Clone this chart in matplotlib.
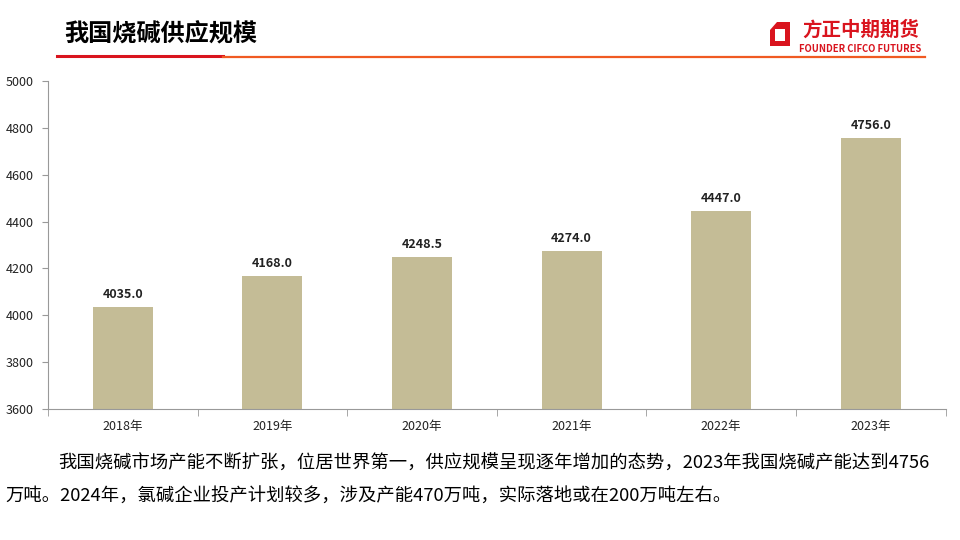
import matplotlib.pyplot as plt
from matplotlib.patches import Polygon, Rectangle

plt.rcParams['font.family'] = ['Noto Sans CJK SC', 'DejaVu Sans']

# adatok
evek = ['2018年', '2019年', '2020年', '2021年', '2022年', '2023年']
kapacitas = [4035.0, 4168.0, 4248.5, 4274.0, 4447.0, 4756.0]
y_ticks = [3600, 3800, 4000, 4200, 4400, 4600, 4800, 5000]

cim = '我国烧碱供应规模'
szoveg1 = '我国烧碱市场产能不断扩张，位居世界第一，供应规模呈现逐年增加的态势，2023年我国烧碱产能达到4756'
szoveg2 = '万吨。2024年，氯碱企业投产计划较多，涉及产能470万吨，实际落地或在200万吨左右。'

fig = plt.figure(figsize=(9.6, 5.4), dpi=100)
ax = fig.add_axes([0.05, 0.2426, 0.935, 0.6074])

x = list(range(len(evek)))
ax.bar(x, kapacitas, width=0.4, color='#C4BC96', zorder=2)
for xi, v in zip(x, kapacitas):
    ax.text(xi, v + 25, f'{v:.1f}', ha='center', va='bottom', fontsize=9,
            fontweight='bold', color='#222222')

ax.set_ylim(3600, 5000)
ax.set_xlim(-0.5, len(evek) - 0.5)
ax.set_yticks(y_ticks)
ax.tick_params(axis='y', labelsize=9, length=4, color='#999999', labelcolor='#222222', pad=6)
ax.set_xticks(x)
ax.set_xticklabels(evek)
ax.set_xticks([i + 0.5 for i in range(-1, len(evek))], minor=True)
ax.tick_params(axis='x', which='major', length=0, labelsize=9, labelcolor='#222222', pad=8)
ax.tick_params(axis='x', which='minor', length=5, color='#999999')
for s in ['top', 'right']:
    ax.spines[s].set_visible(False)
for s in ['left', 'bottom']:
    ax.spines[s].set_color('#999999')
    ax.spines[s].set_linewidth(0.8)

# fejléc
fig.text(64 / 960, 1 - 35 / 540, cim, fontsize=17.4, fontweight='bold', va='center', ha='left')
fig.add_artist(plt.Line2D([57 / 960, 223 / 960], [1 - 56 / 540] * 2, color='#D9141E', lw=2.2))
fig.add_artist(plt.Line2D([223 / 960, 925 / 960], [1 - 56.5 / 540] * 2, color='#F05A22', lw=1.6))

# logo
pts = [(770, 30), (777, 22), (790, 22), (790, 46), (770, 46)]
fig.add_artist(Polygon([(px / 960, 1 - py / 540) for px, py in pts], closed=True,
                       facecolor='#D9141E', edgecolor='none', transform=fig.transFigure))
fig.add_artist(Rectangle((775 / 960, 1 - 41 / 540), 10 / 960, 12 / 540,
                         facecolor='white', edgecolor='none', transform=fig.transFigure))
fig.text(860.5 / 960, 1 - 30 / 540, '方正中期期货', fontsize=14, fontweight='bold', color='#D9141E',
         ha='center', va='center')
fig.text(860.5 / 960, 1 - 48.5 / 540, 'FOUNDER CIFCO FUTURES', fontsize=6.8, fontweight='bold', color='#D9141E',
         ha='center', va='center')

# szöveg
fig.text(58 / 960, 1 - 464 / 540, szoveg1, fontsize=13.2, va='center', ha='left')
fig.text(5 / 960, 1 - 497 / 540, szoveg2, fontsize=13.2, va='center', ha='left')

fig.savefig('out.png', dpi=100)
